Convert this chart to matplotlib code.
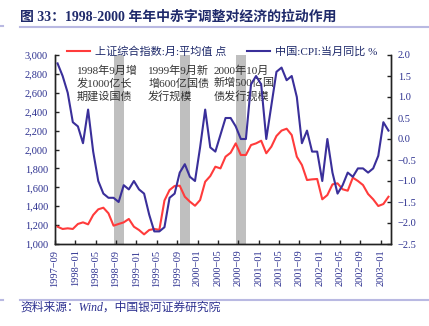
import pandas as pd
import matplotlib.pyplot as plt
from matplotlib.lines import Line2D
from matplotlib.ticker import FuncFormatter, MultipleLocator

# 月度数据：1997-09 至 2003-02
months = [p.strftime('%Y-%m') for p in pd.period_range('1997-09', '2003-02', freq='M')]

# 上证综合指数：月平均值（点）
sh_index = [1183, 1159, 1166, 1159, 1212, 1229, 1208, 1307, 1367, 1384,
            1325, 1194, 1212, 1229, 1265, 1183, 1148, 1102, 1148, 1159,
            1150, 1460, 1571, 1614, 1617, 1500, 1448, 1405, 1465, 1659,
            1719, 1818, 1800, 1924, 1966, 2065, 1942, 1942, 2047, 2065,
            2093, 1960, 2030, 2143, 2200, 2220, 2153, 1924, 1836, 1677,
            1684, 1688, 1473, 1518, 1631, 1642, 1579, 1564, 1702, 1667,
            1624, 1529, 1473, 1402, 1423, 1500]

# 中国CPI当月同比（%）
cpi = [1.8, 1.5, 1.1, 0.4, 0.3, -0.1, 0.7, -0.3, -1.0, -1.3,
       -1.4, -1.4, -1.5, -1.1, -1.2, -1.0, -1.2, -1.3, -1.8, -2.2,
       -2.2, -2.1, -1.4, -1.3, -0.8, -0.6, -0.9, -1.0, -0.2, 0.7,
       -0.2, -0.3, 0.1, 0.5, 0.5, 0.3, 0.0, 0.0, 1.3, 1.5,
       1.3, 0.0, 0.8, 1.6, 1.7, 1.4, 1.5, 1.0, -0.1, 0.2,
       -0.3, -0.3, -1.0, 0.0, -0.8, -1.3, -1.1, -0.8, -0.9, -0.7,
       -0.7, -0.8, -0.7, -0.4, 0.4, 0.2]

# 国债增发时点（灰色柱）与说明
bond_months = ['1998-09', '1999-10', '2000-09']
notes = ['1998年9月增\n发1000亿长\n期建设国债',
         '1999年9月新\n增600亿国债\n发行规模',
         '2000年10月\n新增500亿国\n债发行规模']
note_x = [4.3, 18.3, 31.2]

RED = '#FF3B3B'
BLUE = '#3A2F9A'
NAVY = '#2B2F8F'
LAVENDER = '#B9B9E2'
FONTS = ['Liberation Serif', 'Noto Sans CJK SC']

fig = plt.figure(figsize=(4.29, 3.26), dpi=100)
ax = fig.add_axes([55/429, 1-244/326, 336/429, 189/326])
ax2 = ax.twinx()

xpos = [i + 0.5 for i in range(len(months))]

# 灰色柱
bar_x = [months.index(m) + 0.5 for m in bond_months]
ax.bar(bar_x, [3000]*len(bar_x), width=2, color='#BFBFBF', zorder=1)

ax.plot(xpos, sh_index, color=RED, lw=1.5, zorder=3, label='上证综合指数:月:平均值 点')
ax2.plot(xpos, cpi, color=BLUE, lw=1.5, zorder=3, label='中国:CPI:当月同比 %')

ax.set_xlim(0, len(months))
ax.set_ylim(1000, 3000)
ax2.set_ylim(-2.5, 2.0)
ax.yaxis.set_major_locator(MultipleLocator(200))
ax2.yaxis.set_major_locator(MultipleLocator(0.5))
ax.yaxis.set_major_formatter(FuncFormatter(lambda v, p: f'{v:,.0f}'))
ax2.yaxis.set_major_formatter(FuncFormatter(lambda v, p: f'{v:.1f}'.replace('-', '\u2212')))

ticks = list(range(0, len(months), 4))
ax.set_xticks(ticks)
ax.set_xticklabels([months[t].replace('-', '\u2212') for t in ticks], rotation=90)

for a in (ax, ax2):
    a.spines['top'].set_visible(False)
    for s in a.spines.values():
        s.set_color('#222222')
        s.set_linewidth(1.0)
    a.tick_params(direction='in', length=3, width=1, color='#222222',
                  labelcolor=NAVY, labelsize=7.5)
ax.tick_params(axis='y', pad=5)
ax.tick_params(axis='x', pad=4)
ax2.tick_params(axis='y', pad=5)
for lab in ax.get_xticklabels() + ax.get_yticklabels() + ax2.get_yticklabels():
    lab.set_family('Liberation Serif')

ax.set_zorder(ax2.get_zorder() - 1)
ax.patch.set_visible(False)

for x, txt in zip(note_x, notes):
    ax.text(x, 2890, txt, ha='left', va='top', fontsize=8, color='#333333',
            linespacing=1.3, family=FONTS, zorder=4)

# 图例
handles = [Line2D([], [], color=RED, lw=1.5), Line2D([], [], color=BLUE, lw=1.5)]
labels = ['上证综合指数:月:平均值 点', '中国:CPI:当月同比 %']
leg = fig.legend(handles, labels, loc='center', ncol=2, frameon=False,
                 bbox_to_anchor=(222/429, 1-52/326), bbox_transform=fig.transFigure,
                 handlelength=2.1, handletextpad=0.4, columnspacing=1.9,
                 prop={'family': FONTS, 'size': 8}, labelcolor='#1F2A6B')

# 标题与来源
fig.text(20/429, 1-17/326, '图 33：1998-2000 年年中赤字调整对经济的拉动作用',
         fontsize=10, fontweight='bold', color='#1F2A6B', va='center', family=FONTS)
fig.add_artist(Line2D([20/429, 1], [1-26.7/326]*2, color=LAVENDER, lw=1.5))
fig.add_artist(Line2D([0, 3/429], [1-26/326]*2, color=LAVENDER, lw=1.5))
fig.add_artist(Line2D([20/429, 1], [1-300/326]*2, color=LAVENDER, lw=1.5))
fig.add_artist(Line2D([0, 3/429], [1-300/326]*2, color=LAVENDER, lw=1.5))
fig.text(20/429, 1-307.5/326, '资料来源：Wind，中国银河证券研究院',
         fontsize=8.5, color=NAVY, style='italic', va='center', family=FONTS)

fig.savefig('out.png', dpi=100)
